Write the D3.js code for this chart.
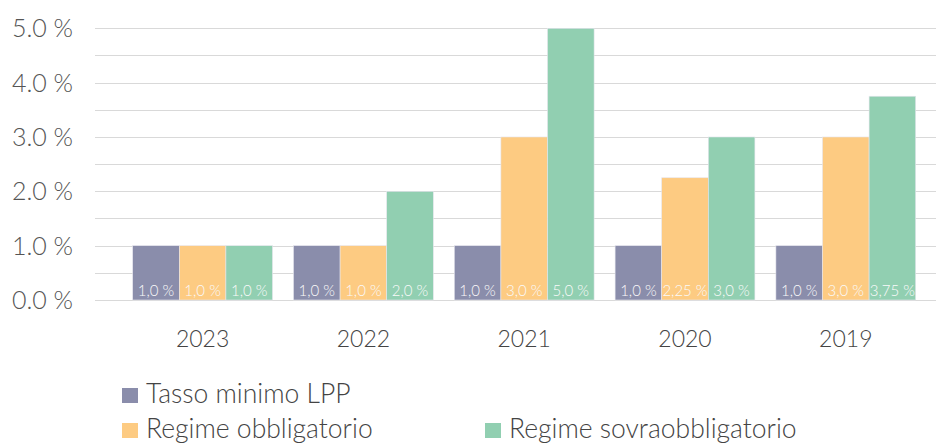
<!DOCTYPE html>
<html>
<head>
<meta charset="utf-8">
<script src="https://cdn.jsdelivr.net/npm/d3@7"></script>
<style>
  body { margin: 0; background: #fff; }
  text { font-family: "Source Sans Pro", Lato, "Open Sans", sans-serif; font-weight: 300; }
</style>
</head>
<body>
<div id="chart"></div>
<script>
const years = ["2023", "2022", "2021", "2020", "2019"];
const seriesNames = ["Tasso minimo LPP", "Regime obbligatorio", "Regime sovraobbligatorio"];
const tassoMinimo = [1.0, 1.0, 1.0, 1.0, 1.0];
const obbligatorio = [1.0, 1.0, 3.0, 2.25, 3.0];
const sovraobbligatorio = [1.0, 2.0, 5.0, 3.0, 3.75];
const barLabels = [
  ["1,0 %", "1,0 %", "1,0 %", "1,0 %", "1,0 %"],
  ["1,0 %", "1,0 %", "3,0 %", "2,25 %", "3,0 %"],
  ["1,0 %", "2,0 %", "5,0 %", "3,0 %", "3,75 %"]
];
const yTicks = [0, 1, 2, 3, 4, 5];
const colors = ["#8a8dab", "#fdcb82", "#91cfb1"];

const W = 936, H = 443;
const svg = d3.select("#chart").append("svg").attr("width", W).attr("height", H);

const series = [tassoMinimo, obbligatorio, sovraobbligatorio];

const y = d3.scaleLinear().domain([0, 5]).range([300, 28.3]);
const x = d3.scaleBand().domain(years).range([122.2, 926.2]).paddingInner(0.1306).paddingOuter(0.0653);
const xs = d3.scaleBand().domain([0, 1, 2]).range([0, x.bandwidth()]);

// grid
svg.append("g").selectAll("line")
  .data(d3.range(0, 5.01, 0.5))
  .enter().append("line")
  .attr("x1", 95).attr("x2", W)
  .attr("y1", d => Math.round(y(d)) + 0.5).attr("y2", d => Math.round(y(d)) + 0.5)
  .attr("stroke", "#d9d9d9").attr("stroke-width", 1);

// y labels
svg.append("g").selectAll("text")
  .data(yTicks)
  .enter().append("text")
  .attr("x", 73).attr("y", d => y(d) + 9)
  .attr("text-anchor", "end")
  .attr("font-size", 25).attr("fill", "#555")
  .text(d => d.toFixed(1) + " %");

// bars
const groups = svg.append("g").selectAll("g")
  .data(years)
  .enter().append("g")
  .attr("transform", d => "translate(" + x(d) + ",0)");

groups.each(function(year, i) {
  const g = d3.select(this);
  series.forEach((s, k) => {
    g.append("rect")
      .attr("x", xs(k))
      .attr("y", y(s[i]))
      .attr("width", xs.bandwidth())
      .attr("height", y(0) - y(s[i]))
      .attr("fill", colors[k])
      .attr("stroke", "#e6e6ee").attr("stroke-width", 0.6);
    g.append("text")
      .attr("x", xs(k) + xs.bandwidth() / 2)
      .attr("y", 296)
      .attr("text-anchor", "middle")
      .attr("font-size", 15).attr("fill", "#fafafa")
      .text(barLabels[k][i]);
  });
});

// x labels
svg.append("g").selectAll("text")
  .data(years)
  .enter().append("text")
  .attr("x", d => x(d) + x.bandwidth() / 2)
  .attr("y", 347)
  .attr("text-anchor", "middle")
  .attr("font-size", 23).attr("fill", "#444")
  .text(d => d);

// legend
const legendPos = [[122, 403], [122, 438], [485, 438]];
const legend = svg.append("g").selectAll("g")
  .data(seriesNames)
  .enter().append("g")
  .attr("transform", (d, i) => "translate(" + legendPos[i][0] + "," + legendPos[i][1] + ")");
legend.append("rect")
  .attr("x", 0).attr("y", -15).attr("width", 16).attr("height", 15)
  .attr("fill", (d, i) => colors[i]);
legend.append("text")
  .attr("x", 24).attr("y", 0)
  .attr("font-size", 26.5).attr("fill", "#444")
  .text(d => d);
</script>
</body>
</html>
